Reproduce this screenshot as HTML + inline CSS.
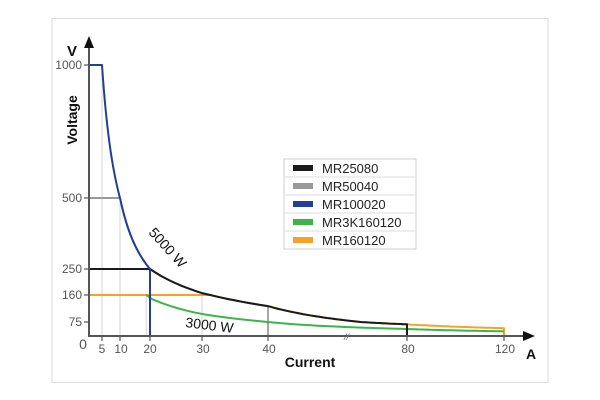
<!DOCTYPE html>
<html><head><meta charset="utf-8"><style>
html,body{margin:0;padding:0;background:#fff;}
svg{display:block;font-family:"Liberation Sans",sans-serif;}
</style></head><body>
<svg id="s" width="600" height="400" viewBox="0 0 600 400" xmlns="http://www.w3.org/2000/svg">
<rect x="52" y="18.5" width="496" height="364" fill="#fff" stroke="#dcdcdc" stroke-width="1"/>
<g id="grid" stroke="#d6d6d6" stroke-width="1"></g>
<g id="curves" fill="none" stroke-width="2" stroke-linejoin="round"></g>
<line x1="89" y1="336" x2="89" y2="44" stroke="#555" stroke-width="2"/>
<polygon points="89,36 84,48 94,48" fill="#111"/>
<line x1="88" y1="336" x2="526" y2="336" stroke="#555" stroke-width="2"/>
<polygon points="535,336 523,331 523,341" fill="#111"/>
<text x="344" y="340" font-size="9" fill="#666" font-style="italic">//</text>
<g stroke="#555" stroke-width="1.2">
<line x1="84" y1="65" x2="89" y2="65"/><line x1="84" y1="198" x2="89" y2="198"/>
<line x1="84" y1="269" x2="89" y2="269"/><line x1="84" y1="295" x2="89" y2="295"/>
<line x1="84" y1="322" x2="89" y2="322"/>
<line x1="102" y1="336" x2="102" y2="341"/><line x1="120" y1="336" x2="120" y2="341"/>
<line x1="150" y1="336" x2="150" y2="341"/><line x1="202" y1="336" x2="202" y2="341"/>
<line x1="268" y1="336" x2="268" y2="341"/><line x1="407" y1="336" x2="407" y2="341"/>
<line x1="504" y1="336" x2="504" y2="341"/>
</g>
<g font-size="12" fill="#555" text-anchor="end">
<text x="82" y="69">1000</text><text x="82" y="202">500</text><text x="82" y="273">250</text>
<text x="82" y="299">160</text><text x="82" y="326">75</text>
</g>
<text x="83" y="349" font-size="14" fill="#555" text-anchor="middle">0</text>
<g font-size="12" fill="#555" text-anchor="middle">
<text x="102" y="353">5</text><text x="121" y="353">10</text><text x="150" y="353">20</text>
<text x="203" y="353">30</text><text x="269" y="353">40</text><text x="408" y="353">80</text><text x="505" y="353">120</text>
</g>
<text x="72" y="56" font-size="15" font-weight="bold" fill="#111" text-anchor="middle">V</text>
<text transform="translate(77,120) rotate(-90)" font-size="14" font-weight="bold" fill="#111" text-anchor="middle">Voltage</text>
<text x="310" y="367" font-size="14" font-weight="bold" fill="#111" text-anchor="middle">Current</text>
<text x="531" y="359" font-size="14" font-weight="bold" fill="#111" text-anchor="middle">A</text>
<text transform="translate(148,233) rotate(48)" font-size="14" fill="#111">5000 W</text>
<text transform="translate(185,327) rotate(7)" font-size="14" fill="#111">3000 W</text>
<g>
<rect x="284" y="159" width="132" height="90" fill="#fff" stroke="#d0d0d0"/>
<line x1="284" y1="177" x2="416" y2="177" stroke="#ddd"/>
<line x1="284" y1="195" x2="416" y2="195" stroke="#ddd"/>
<line x1="284" y1="213" x2="416" y2="213" stroke="#ddd"/>
<line x1="284" y1="231" x2="416" y2="231" stroke="#ddd"/>
<rect x="293" y="165" width="20" height="6" fill="#1a1a1a"/>
<rect x="293" y="183" width="20" height="6" fill="#999"/>
<rect x="293" y="201" width="20" height="6" fill="#213f99"/>
<rect x="293" y="219" width="20" height="6" fill="#3bb54a"/>
<rect x="293" y="237" width="20" height="6" fill="#f7a128"/>
<g font-size="13" fill="#222">
<text x="322" y="173">MR25080</text><text x="322" y="191">MR50040</text>
<text x="322" y="209">MR100020</text><text x="322" y="227">MR3K160120</text>
<text x="322" y="245">MR160120</text>
</g>
</g>
</svg>
<script>
var XS=[[0,89],[5,102],[10,120],[20,150],[30,202],[40,268],[80,407],[120,504]];
var YS=[[0,336],[75,322],[160,295],[250,269],[500,198],[1000,65]];
function interp(t,v){for(var i=0;i<t.length-1;i++){if(v<=t[i+1][0]){var a=t[i],b=t[i+1];return a[1]+(v-a[0])/(b[0]-a[0])*(b[1]-a[1]);}}return t[t.length-1][1];}
function P(i,v){return interp(XS,i).toFixed(1)+','+interp(YS,v).toFixed(1);}
function hyp(P0,i0,i1){var s='';for(var k=1;k<=60;k++){var i=i0+(i1-i0)*k/60;s+=' L'+P(i,P0/i);}return s;}
var ns='http://www.w3.org/2000/svg';
function path(d,c,w,g){var p=document.createElementNS(ns,'path');p.setAttribute('d',d);p.setAttribute('stroke',c);if(w)p.setAttribute('stroke-width',w);document.getElementById(g||'curves').appendChild(p);}
path('M102,336 V65','#d6d6d6',1,'grid');
path('M120,336 V198','#d6d6d6',1,'grid');
path('M'+interp(XS,18.75)+',336 V295','#d6d6d6',1,'grid');
path('M202,336 V295','#d6d6d6',1,'grid');
path('M'+interp(XS,40)+',336 V'+interp(YS,125),'#888',1.5);
path('M'+P(0,160)+' L'+P(31.25,160)+hyp(5000,31.25,120)+' L'+P(120,0),'#f7a128',2);
path('M'+P(18.75,160)+hyp(3000,18.75,120),'#3bb54a',2);
path('M'+P(0,500)+' L'+P(10,500)+hyp(5000,10,40),'#999',2);
path('M'+P(0,250)+' L'+P(20,250)+hyp(5000,20,80)+' L'+P(80,0),'#1a1a1a',2);
path('M'+P(0,1000)+' L'+P(5,1000)+hyp(5000,5,20)+' L'+P(20,0),'#213f99',2);
</script>
</body></html>
